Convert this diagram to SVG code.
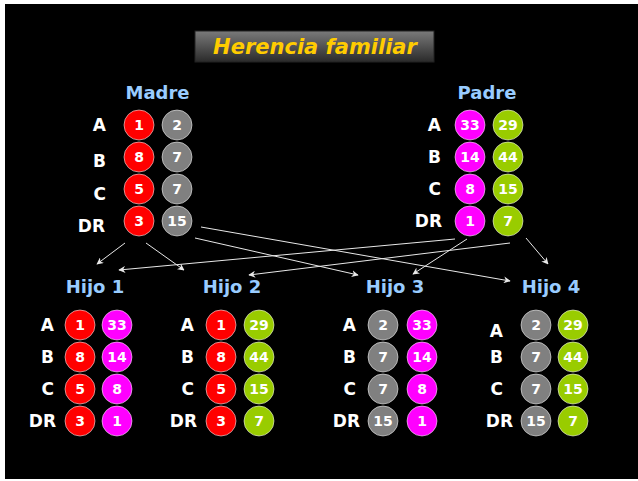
<svg xmlns="http://www.w3.org/2000/svg" width="638" height="481" viewBox="0 0 638 481">
<defs>
<linearGradient id="tg" x1="0" y1="0" x2="0" y2="1">
<stop offset="0" stop-color="#7a7a7a"/>
<stop offset="1" stop-color="#2a2a2a"/>
</linearGradient>
<marker id="ah" viewBox="0 0 10 10" refX="9" refY="5" markerWidth="7" markerHeight="7" markerUnits="userSpaceOnUse" orient="auto">
<path d="M0,0 L10,5 L0,10 L3,5 Z" fill="#e8e8e8"/>
</marker>
</defs>
<style>
text{font-family:"DejaVu Sans","Liberation Sans",sans-serif;font-weight:bold}
.ttl{fill:#FFCC00;font-size:21px;font-style:italic}
.hd{fill:#99CCFF;font-size:18px;text-anchor:middle}
.lb{fill:#fff;font-size:17px;text-anchor:end;dominant-baseline:central}
.n{fill:#fff;font-size:14px;text-anchor:middle;dominant-baseline:central}
circle{stroke:#fff;stroke-opacity:0.55;stroke-width:1}
.r{fill:#FF0000}.g{fill:#808080}.m{fill:#FF00FF}.v{fill:#99CC00}
.c line{stroke:#e8e8e8;stroke-width:1;marker-end:url(#ah)}
</style>
<rect x="0" y="0" width="638" height="481" fill="#fff"/>
<rect x="5" y="4" width="633" height="475" fill="#000"/>
<g id="title">
<rect x="195" y="31" width="239" height="31" fill="url(#tg)" stroke="#222" stroke-width="1"/>
<text class="ttl" x="315" y="54" text-anchor="middle">Herencia familiar</text>
</g>
<g id="madre">
<text class="hd" x="157.5" y="99">Madre</text>
<text class="lb" x="106" y="125">A</text>
<text class="lb" x="106" y="161">B</text>
<text class="lb" x="106" y="194">C</text>
<text class="lb" x="105" y="226">DR</text>
<circle class="r" cx="139" cy="125" r="15"/><text class="n" x="139" y="125">1</text>
<circle class="g" cx="177" cy="125" r="15"/><text class="n" x="177" y="125">2</text>
<circle class="r" cx="139" cy="157" r="15"/><text class="n" x="139" y="157">8</text>
<circle class="g" cx="177" cy="157" r="15"/><text class="n" x="177" y="157">7</text>
<circle class="r" cx="139" cy="189" r="15"/><text class="n" x="139" y="189">5</text>
<circle class="g" cx="177" cy="189" r="15"/><text class="n" x="177" y="189">7</text>
<circle class="r" cx="139" cy="221" r="15"/><text class="n" x="139" y="221">3</text>
<circle class="g" cx="177" cy="221" r="15"/><text class="n" x="177" y="221">15</text>
</g>
<g id="padre">
<text class="hd" x="487" y="99">Padre</text>
<text class="lb" x="441" y="125">A</text>
<text class="lb" x="441" y="157">B</text>
<text class="lb" x="441" y="189">C</text>
<text class="lb" x="442" y="221">DR</text>
<circle class="m" cx="470" cy="125" r="15"/><text class="n" x="470" y="125">33</text>
<circle class="v" cx="508" cy="125" r="15"/><text class="n" x="508" y="125">29</text>
<circle class="m" cx="470" cy="157" r="15"/><text class="n" x="470" y="157">14</text>
<circle class="v" cx="508" cy="157" r="15"/><text class="n" x="508" y="157">44</text>
<circle class="m" cx="470" cy="189" r="15"/><text class="n" x="470" y="189">8</text>
<circle class="v" cx="508" cy="189" r="15"/><text class="n" x="508" y="189">15</text>
<circle class="m" cx="470" cy="221" r="15"/><text class="n" x="470" y="221">1</text>
<circle class="v" cx="508" cy="221" r="15"/><text class="n" x="508" y="221">7</text>
</g>
<g id="connectors" class="c">
<line x1="125" y1="243" x2="97" y2="264"/>
<line x1="146" y1="243" x2="184" y2="270"/>
<line x1="195" y1="238" x2="358" y2="275"/>
<line x1="201" y1="227" x2="510" y2="281"/>
<line x1="455" y1="239" x2="119" y2="270"/>
<line x1="467" y1="239" x2="413" y2="274"/>
<line x1="510" y1="243" x2="249" y2="275"/>
<line x1="526" y1="238" x2="548" y2="264"/>
</g>
<g id="hijo1">
<text class="hd" x="95" y="293">Hijo 1</text>
<text class="lb" x="54" y="325">A</text>
<text class="lb" x="54" y="357">B</text>
<text class="lb" x="54" y="389">C</text>
<text class="lb" x="56" y="421">DR</text>
<circle class="r" cx="80" cy="325" r="15"/><text class="n" x="80" y="325">1</text>
<circle class="m" cx="117" cy="325" r="15"/><text class="n" x="117" y="325">33</text>
<circle class="r" cx="80" cy="357" r="15"/><text class="n" x="80" y="357">8</text>
<circle class="m" cx="117" cy="357" r="15"/><text class="n" x="117" y="357">14</text>
<circle class="r" cx="80" cy="389" r="15"/><text class="n" x="80" y="389">5</text>
<circle class="m" cx="117" cy="389" r="15"/><text class="n" x="117" y="389">8</text>
<circle class="r" cx="80" cy="421" r="15"/><text class="n" x="80" y="421">3</text>
<circle class="m" cx="117" cy="421" r="15"/><text class="n" x="117" y="421">1</text>
</g>
<g id="hijo2">
<text class="hd" x="232" y="293">Hijo 2</text>
<text class="lb" x="194" y="325">A</text>
<text class="lb" x="194" y="357">B</text>
<text class="lb" x="194" y="389">C</text>
<text class="lb" x="197" y="421">DR</text>
<circle class="r" cx="221" cy="325" r="15"/><text class="n" x="221" y="325">1</text>
<circle class="v" cx="259" cy="325" r="15"/><text class="n" x="259" y="325">29</text>
<circle class="r" cx="221" cy="357" r="15"/><text class="n" x="221" y="357">8</text>
<circle class="v" cx="259" cy="357" r="15"/><text class="n" x="259" y="357">44</text>
<circle class="r" cx="221" cy="389" r="15"/><text class="n" x="221" y="389">5</text>
<circle class="v" cx="259" cy="389" r="15"/><text class="n" x="259" y="389">15</text>
<circle class="r" cx="221" cy="421" r="15"/><text class="n" x="221" y="421">3</text>
<circle class="v" cx="259" cy="421" r="15"/><text class="n" x="259" y="421">7</text>
</g>
<g id="hijo3">
<text class="hd" x="395" y="293">Hijo 3</text>
<text class="lb" x="356" y="325">A</text>
<text class="lb" x="356" y="357">B</text>
<text class="lb" x="356" y="389">C</text>
<text class="lb" x="360" y="421">DR</text>
<circle class="g" cx="383" cy="325" r="15"/><text class="n" x="383" y="325">2</text>
<circle class="m" cx="422" cy="325" r="15"/><text class="n" x="422" y="325">33</text>
<circle class="g" cx="383" cy="357" r="15"/><text class="n" x="383" y="357">7</text>
<circle class="m" cx="422" cy="357" r="15"/><text class="n" x="422" y="357">14</text>
<circle class="g" cx="383" cy="389" r="15"/><text class="n" x="383" y="389">7</text>
<circle class="m" cx="422" cy="389" r="15"/><text class="n" x="422" y="389">8</text>
<circle class="g" cx="383" cy="421" r="15"/><text class="n" x="383" y="421">15</text>
<circle class="m" cx="422" cy="421" r="15"/><text class="n" x="422" y="421">1</text>
</g>
<g id="hijo4">
<text class="hd" x="551" y="293">Hijo 4</text>
<text class="lb" x="503" y="331">A</text>
<text class="lb" x="503" y="357">B</text>
<text class="lb" x="503" y="389">C</text>
<text class="lb" x="513" y="421">DR</text>
<circle class="g" cx="536" cy="325" r="15"/><text class="n" x="536" y="325">2</text>
<circle class="v" cx="573" cy="325" r="15"/><text class="n" x="573" y="325">29</text>
<circle class="g" cx="536" cy="357" r="15"/><text class="n" x="536" y="357">7</text>
<circle class="v" cx="573" cy="357" r="15"/><text class="n" x="573" y="357">44</text>
<circle class="g" cx="536" cy="389" r="15"/><text class="n" x="536" y="389">7</text>
<circle class="v" cx="573" cy="389" r="15"/><text class="n" x="573" y="389">15</text>
<circle class="g" cx="536" cy="421" r="15"/><text class="n" x="536" y="421">15</text>
<circle class="v" cx="573" cy="421" r="15"/><text class="n" x="573" y="421">7</text>
</g>
</svg>
